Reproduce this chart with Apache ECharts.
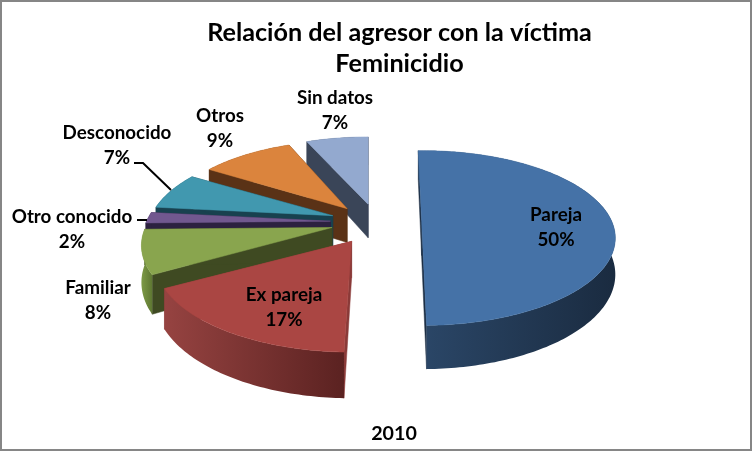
<!DOCTYPE html>
<html><head><meta charset="utf-8">
<style>html,body{margin:0;padding:0;background:#fff}#c{width:753px;height:451px}</style>
<script src="https://cdn.jsdelivr.net/npm/echarts@6/dist/echarts.min.js"></script>
</head><body><div id="c"></div>
<script>
const categories = ['Pareja','Ex pareja','Familiar','Otro conocido','Desconocido','Otros','Sin datos'];
const values = [50,17,8,2,7,9,7];
const titleLines = ['Relación del agresor con la víctima','Feminicidio'];
const footerText = '2010';

const topColors  = ['#4572a7','#aa4643','#89a54e','#71588f','#4198af','#db843d','#93a9cf'];
const wallColors = ['#1c2e44','#8a3a38','#3f4a22','#2c2140','#18414f','#5a3216','#3a4558'];
const arcFrom    = ['#2b4768','#964341','#7d9a46','#2c2140','#18414f','#5a3216','#3a4558'];
const arcTo      = ['#1a2b40','#5b2221','#5e7732','#2c2140','#18414f','#5a3216','#3a4558'];
const labelAt = [[556,227],[284,307],[98,300],[72,229.5],[117,145],[220,128],[335,110.5]];
const leaders = {3:[[137,220],[147,220]],4:[[134,163],[143,163],[171,190]]};
// small visual corrections for the reference's perspective, per slice (not data)
const edgeNudge = [[0,0],[3,1],[0,0],[0,0],[0,0],[1,4],[3,1.2]];
const apexNudge = [[0,-1],[-2,1],[0,0],[0,0],[0,0],[2,1],[3,1]];
const widthFit  = [1,0.97,0.97,0.97,0.97,0.98,1];

const P = {cx:376,cy:222,rx:190,ry:84,k:0.2,h:35,explode:0.24,start:-1.2};
const FONT = 'Lato, "Open Sans", sans-serif';
const total = values.reduce((a,b)=>a+b,0);
const rad = d => d*Math.PI/180;
const spans=[];let acc=P.start;
values.forEach(x=>{const a=acc,b=acc+x/total*360;spans.push([a,b]);acc=b;});
const depth=spans.map(s=>-Math.cos(rad((s[0]+s[1])/2)));
const rank=depth.map((d,i)=>i).sort((a,b)=>depth[a]-depth[b]);

function renderItem(params,api){
  const i=params.dataIndex,value=api.value(0);
  const a0=spans[i][0],b0=a0+value/total*360,mid=(a0+b0)/2;
  const a=a0+edgeNudge[i][0],b=b0+edgeNudge[i][1];
  const ox=P.explode*Math.sin(rad(mid)),oy=-P.explode*Math.cos(rad(mid));
  const w0=1/(1-P.k*oy);
  const ax=P.cx+P.rx*ox+apexNudge[i][0],ay=P.cy+P.ry*oy*w0+apexNudge[i][1];
  const pt=(deg,r,z)=>{
    const u=r*Math.sin(rad(deg)),v=-r*Math.cos(rad(deg)),w=1/(1-P.k*(v+oy));
    return [ax+P.rx*widthFit[i]*u*w,ay+(P.ry*v+P.h*z)*w];
  };
  const n=Math.max(8,Math.ceil(b-a));
  const arcT=[],arcB=[];
  for(let j=0;j<=n;j++){const d=a+(b-a)*j/n;arcT.push(pt(d,1,0));arcB.push(pt(d,1,1));}
  const apexT=pt(a,0,0),apexB=pt(a,0,1);
  const z=rank.indexOf(i)*10+1;
  const fillS=c=>({fill:c,stroke:c,lineWidth:0.5});
  const children=[
    {type:'polygon',z2:z,shape:{points:[apexT,arcT[0],arcB[0],apexB]},style:fillS(wallColors[i])},
    {type:'polygon',z2:z,shape:{points:[apexT,arcT[n],arcB[n],apexB]},style:fillS(wallColors[i])},
    {type:'polygon',z2:z+1,shape:{points:arcT.concat(arcB.slice().reverse())},style:{
      fill:{type:'linear',x:0,y:0,x2:1,y2:0,colorStops:[{offset:0,color:arcFrom[i]},{offset:1,color:arcTo[i]}]}}},
    {type:'polygon',z2:z+2,shape:{points:[apexT].concat(arcT)},style:fillS(topColors[i])},
    {type:'text',z2:200,style:{text:categories[i]+'\n'+value+'%',x:labelAt[i][0],y:labelAt[i][1],
      align:'center',verticalAlign:'middle',fontFamily:FONT,fontSize:18.8,fontWeight:700,lineHeight:25,fill:'#000'}}
  ];
  if(leaders[i])children.push({type:'polyline',z2:200,shape:{points:leaders[i]},style:{stroke:'#000',lineWidth:2,fill:'none'}});
  return {type:'group',children};
}

const chart=echarts.init(document.getElementById('c'),null,{renderer:'canvas'});
chart.setOption({
  animation:false,
  backgroundColor:'#fff',
  title:[
    {text:titleLines.join('\n'),left:394.5,top:12.5,textAlign:'center',
     textStyle:{fontFamily:FONT,fontSize:25.2,fontWeight:700,color:'#000',lineHeight:31}},
    {text:footerText,left:389,top:419,textAlign:'center',
     textStyle:{fontFamily:FONT,fontSize:19.7,fontWeight:700,color:'#000'}}
  ],
  graphic:[{type:'rect',shape:{x:1,y:1,width:750,height:449},style:{fill:'none',stroke:'#868686',lineWidth:2},silent:true}],
  series:[{type:'custom',coordinateSystem:'none',silent:true,renderItem,
    data:values.map((v,i)=>({name:categories[i],value:[v]}))}]
});
</script></body></html>
